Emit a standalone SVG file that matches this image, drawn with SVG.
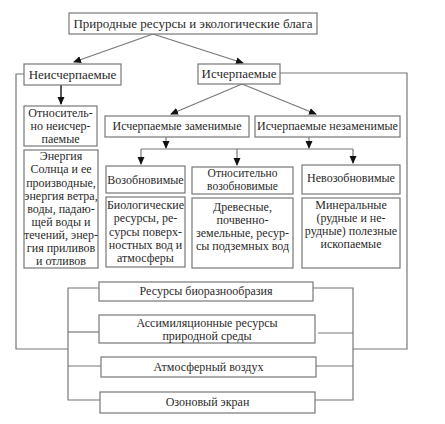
<svg xmlns="http://www.w3.org/2000/svg" width="445" height="424" viewBox="0 0 445 424">
<style>
.b{fill:#fff;stroke:#777;stroke-width:1.2}
.c{fill:none;stroke:#777;stroke-width:1.2}
text{font-family:"Liberation Serif","DejaVu Serif","Times New Roman",serif;font-size:12px;fill:#2a2a2a;text-anchor:middle}
</style>
<defs>
<marker id="ah" markerWidth="8" markerHeight="8" refX="7" refY="4" orient="auto" markerUnits="userSpaceOnUse">
<path d="M0,0.5 L8,4 L0,7.5 Z" fill="#111"/>
</marker>
</defs>
<rect width="445" height="424" fill="#fff"/>
<g id="connectors">
<path class="c" d="M153,34 L74,62" marker-end="url(#ah)"/>
<path class="c" d="M153,34 L243,63" marker-end="url(#ah)"/>
<path class="c" d="M61,85 L61,104" marker-end="url(#ah)" style="stroke:#222;stroke-width:1.5"/>
<path class="c" d="M242,84 L171,114" marker-end="url(#ah)"/>
<path class="c" d="M242,84 L316,114" marker-end="url(#ah)"/>
<path class="c" d="M166,137 L166,148" marker-end="url(#ah)"/>
<path class="c" d="M309,137 L309,148" marker-end="url(#ah)"/>
<path class="c" d="M141,149 L353,149"/>
<path class="c" d="M141,149 L141,164" marker-end="url(#ah)"/>
<path class="c" d="M237,149 L237,165" marker-end="url(#ah)"/>
<path class="c" d="M353,149 L353,163" marker-end="url(#ah)"/>
<path class="c" d="M24,74 L16,74 L16,349 L68,349"/>
<path class="c" d="M280,73 L407,73 L407,349 L353,349"/>
<path class="c" d="M99,288 L68,288 L68,400 L100,400"/>
<path class="c" d="M68,332 L99,332"/>
<path class="c" d="M68,366 L101,366"/>
<path class="c" d="M313,288 L353,288 L353,400 L315,400"/>
<path class="c" d="M318,333 L353,333"/>
<path class="c" d="M316,366 L353,366"/>
</g>
<g id="root"><rect class="b" x="69" y="13" width="248" height="21"/><text x="193" y="28" style="font-size:13px">Природные ресурсы и экологические блага</text></g>
<g id="inexhaustible"><rect class="b" x="24" y="64" width="97" height="21"/><text x="72.5" y="79" style="font-size:13px">Неисчерпаемые</text></g>
<g id="exhaustible"><rect class="b" x="198" y="64" width="82" height="20"/><text x="239" y="78" style="font-size:13px">Исчерпаемые</text></g>
<g id="rel-inexhaustible"><rect class="b" x="24" y="106" width="73" height="40"/><text x="60.5" y="117">Относитель-</text><text x="60.5" y="130">но неисчер-</text><text x="60.5" y="143">паемые</text></g>
<g id="energy"><rect class="b" x="24" y="150" width="74" height="118"/>
<text x="61" y="160">Энергия</text><text x="61" y="173">Солнца и ее</text><text x="61" y="187">производные,</text><text x="61" y="200">энергия ветра,</text><text x="61" y="213">воды, падаю-</text><text x="61" y="226">щей воды и</text><text x="61" y="239">течений, энер-</text><text x="61" y="252">гия приливов</text><text x="61" y="265">и отливов</text></g>
<g id="replaceable"><rect class="b" x="105" y="116" width="144" height="21"/><text x="177" y="130">Исчерпаемые заменимые</text></g>
<g id="irreplaceable"><rect class="b" x="255" y="116" width="145" height="21"/><text x="327.5" y="130">Исчерпаемые незаменимые</text></g>
<g id="renewable"><rect class="b" x="106" y="166" width="79" height="27"/><text x="145.5" y="184">Возобновимые</text></g>
<g id="rel-renewable"><rect class="b" x="192" y="167" width="101" height="27"/><text x="242.5" y="177" style="font-size:11.5px">Относительно</text><text x="242.5" y="190" style="font-size:11.5px">возобновимые</text></g>
<g id="nonrenewable"><rect class="b" x="302" y="165" width="98" height="29"/><text x="351" y="182">Невозобновимые</text></g>
<g id="bio"><rect class="b" x="106" y="197" width="79" height="70"/><text x="145.5" y="209">Биологические</text><text x="145.5" y="222">ресурсы, ре-</text><text x="145.5" y="236">сурсы поверх-</text><text x="145.5" y="249">ностных вод и</text><text x="145.5" y="262">атмосферы</text></g>
<g id="wood"><rect class="b" x="192" y="198" width="101" height="70"/><text x="242.5" y="211">Древесные,</text><text x="242.5" y="224">почвенно-</text><text x="242.5" y="237">земельные, ресур-</text><text x="242.5" y="250">сы подземных вод</text></g>
<g id="mineral"><rect class="b" x="302" y="198" width="98" height="70"/><text x="351" y="209">Минеральные</text><text x="351" y="222">(рудные и не-</text><text x="351" y="235">рудные) полезные</text><text x="351" y="248">ископаемые</text></g>
<g id="biodiversity"><rect class="b" x="99" y="282" width="214" height="19"/><text x="206" y="295">Ресурсы биоразнообразия</text></g>
<g id="assimilation"><rect class="b" x="99" y="315" width="216" height="28"/><text x="207" y="327">Ассимиляционные ресурсы</text><text x="207" y="340">природной среды</text></g>
<g id="air"><rect class="b" x="101" y="357" width="215" height="20"/><text x="208.5" y="371">Атмосферный воздух</text></g>
<g id="ozone"><rect class="b" x="100" y="392" width="215" height="21"/><text x="207.5" y="406">Озоновый экран</text></g>
</svg>
